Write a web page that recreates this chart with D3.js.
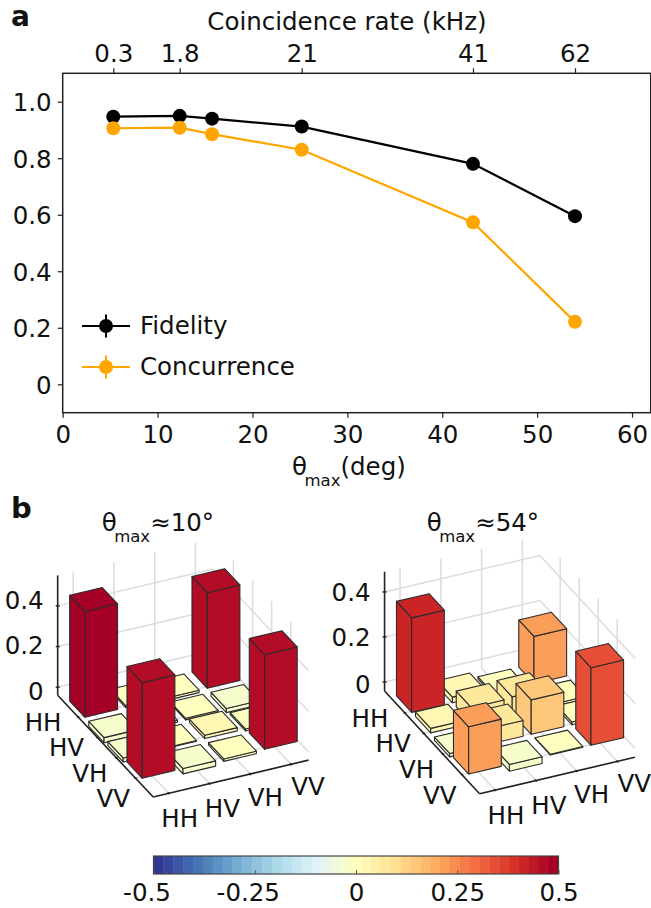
<!DOCTYPE html>
<html>
<head>
<meta charset="utf-8">
<script src="https://cdn.jsdelivr.net/npm/d3@7"></script>
<style>
body{margin:0;background:#fff;}
text{font-family:"DejaVu Sans";fill:#111;}
</style>
</head>
<body>
<script>
// panel a
var thetaMax = [5.33, 12.33, 15.74, 25.19, 43.24, 53.99];
var fidelity = [0.947, 0.950, 0.940, 0.912, 0.780, 0.595];
var concurrence = [0.906, 0.908, 0.885, 0.830, 0.573, 0.221];
var concurrenceErr = [0.022, 0.010, 0.010, 0.010, 0.008, 0.008];
var rateTicks = [5.33, 12.33, 25.19, 43.24, 53.99];
var rateLabels = ["0.3", "1.8", "21", "41", "62"];
var xTicks = [0, 10, 20, 30, 40, 50, 60];
var yTicks = [0, 0.2, 0.4, 0.6, 0.8, 1.0];

// panel b, rows then columns
var basis = ["HH", "HV", "VH", "VV"];
var rho10 = [
    [0.52, 0.010, -0.012, 0.47],
    [-0.025, -0.010, -0.008, -0.020],
    [-0.020, -0.003, 0.016, -0.010],
    [0.47, -0.026, -0.012, 0.465]
];
var rho54 = [
    [0.42, 0.025, -0.010, 0.21],
    [0.020, 0.07, 0.075, -0.012],
    [-0.015, 0.07, 0.153, 0.012],
    [0.21, -0.030, 0.003, 0.345]
];
var zTicks = [0, 0.2, 0.4];
var cbarTicks = [-0.5, -0.25, 0, 0.25, 0.5];

var width = 651, height = 908;
var labelSize = "24.5px";

var svg = d3.select("body").append("svg")
    .attr("width", width)
    .attr("height", height)
    .style("display", "block");

var fmt = function(d){ return d == 0 ? "0" : String(d); };

// 41 steps of the 11 class RdYlBu, blue at the low end
var rdylbu = d3.piecewise(d3.interpolateRgb, d3.schemeRdYlBu[11].slice().reverse());
var colors = d3.scaleQuantize().domain([-0.5, 0.5])
    .range(d3.range(41).map(function(i){ return rdylbu(i / 40); }));

// theta_max with its subscript, shared by the axis label and the titles
var thetaText = function(x, y, rest){
    var t = svg.append("text").attr("x", x).attr("y", y).style("font-size", labelSize);
    t.append("tspan").text("θ");
    t.append("tspan").attr("dx", -2.5).attr("dy", 11).style("font-size", "16.5px").text("max");
    t.append("tspan").attr("dy", -11).text(rest);
}

var drawLinePanel = function(){
    var xScale = d3.scaleLinear().domain([0, 62]).range([62.7, 651]);
    var yScale = d3.scaleLinear().domain([0, 1]).range([384.3, 101.7]);
    var top = 73.3, bottom = 412.7;

    svg.append("rect")
        .attr("x", 62.7).attr("y", top)
        .attr("width", 588).attr("height", bottom - top)
        .attr("fill", "none").attr("stroke", "#222").attr("stroke-width", 1.5);

    var xAxis = svg.append("g").attr("transform", "translate(0," + bottom + ")")
        .call(d3.axisBottom(xScale).tickValues(xTicks).tickSize(5).tickPadding(8).tickFormat(fmt));
    var topAxis = svg.append("g").attr("transform", "translate(0," + top + ")")
        .call(d3.axisTop(xScale).tickValues(rateTicks).tickSize(5).tickPadding(6)
            .tickFormat(function(d, i){ return rateLabels[i]; }));
    var yAxis = svg.append("g").attr("transform", "translate(62.7,0)")
        .call(d3.axisLeft(yScale).tickValues(yTicks).tickSize(5).tickPadding(6)
            .tickFormat(function(d){ return d == 0 ? "0" : d.toFixed(1); }));
    [xAxis, topAxis, yAxis].forEach(function(g){
        g.select(".domain").remove();
        g.selectAll("line").attr("stroke", "#222").attr("stroke-width", 1.2);
        g.selectAll("text").style("font-size", labelSize).style("font-family", "DejaVu Sans").attr("fill", "#111");
    });
    yAxis.selectAll("text").attr("y", 1);

    var series = [
        {name: "Fidelity", values: fidelity, err: null, color: "#000000"},
        {name: "Concurrence", values: concurrence, err: concurrenceErr, color: "#ffa500"}
    ];
    var line = d3.line()
        .x(function(d){ return xScale(d[0]); })
        .y(function(d){ return yScale(d[1]); });

    series.forEach(function(s, k){
        var pts = d3.zip(thetaMax, s.values);
        svg.append("path").attr("d", line(pts))
            .attr("fill", "none").attr("stroke", s.color).attr("stroke-width", 2.2);
        if (s.err){
            svg.selectAll(".err" + k).data(pts).enter().append("line")
                .attr("x1", function(d){ return xScale(d[0]); })
                .attr("x2", function(d){ return xScale(d[0]); })
                .attr("y1", function(d, i){ return yScale(d[1] - s.err[i]); })
                .attr("y2", function(d, i){ return yScale(d[1] + s.err[i]); })
                .attr("stroke", s.color).attr("stroke-width", 2);
        }
        svg.selectAll(".dot" + k).data(pts).enter().append("circle")
            .attr("cx", function(d){ return xScale(d[0]); })
            .attr("cy", function(d){ return yScale(d[1]); })
            .attr("r", 7)
            .attr("fill", s.color);

        // legend
        var ly = 326 + k * 41;
        svg.append("line").attr("x1", 82).attr("x2", 130).attr("y1", ly).attr("y2", ly)
            .attr("stroke", s.color).attr("stroke-width", 2.2);
        svg.append("line").attr("x1", 106).attr("x2", 106).attr("y1", ly - 11.5).attr("y2", ly + 11.5)
            .attr("stroke", s.color).attr("stroke-width", 2);
        svg.append("circle").attr("cx", 106).attr("cy", ly).attr("r", 7).attr("fill", s.color);
        svg.append("text").attr("x", 140).attr("y", ly + 8)
            .style("font-size", labelSize).text(s.name);
    });

    svg.append("text").attr("x", 347).attr("y", 30).attr("text-anchor", "middle")
        .style("font-size", labelSize).text("Coincidence rate (kHz)");
    thetaText(292, 475, "(deg)");
}

// 3D bars are an oblique view: row and column steps on the page, then height
var drawBars = function(rho, view, title){
    var rowX = d3.scaleLinear().domain([0, 1]).range([0, view.row[0]]);
    var rowY = d3.scaleLinear().domain([0, 1]).range([0, view.row[1]]);
    var colX = d3.scaleLinear().domain([0, 1]).range([0, view.col[0]]);
    var colY = d3.scaleLinear().domain([0, 1]).range([0, view.col[1]]);
    var zScale = d3.scaleLinear().domain([0, 1]).range([0, view.zUnit]);

    var project = function(r, c, z){
        return [view.x + rowX(r) + colX(c), view.y + rowY(r) + colY(c) - zScale(z)];
    };
    var seg = function(a, b, color, w){
        var p = project(a[0], a[1], a[2]), q = project(b[0], b[1], b[2]);
        svg.append("line")
            .attr("x1", p[0]).attr("y1", p[1]).attr("x2", q[0]).attr("y2", q[1])
            .attr("stroke", color).attr("stroke-width", w);
    };

    var rMin = -0.67, rMax = 4.33, cMin = 0.02, cMax = 3.83, zf = -0.04;
    var grid = "#dcdcdc";

    // walls and floor
    zTicks.forEach(function(z){
        seg([rMin, cMin, z], [rMin, cMax, z], grid, 1.5);
        seg([rMin, cMax, z], [rMax, cMax, z], grid, 1.5);
    });
    basis.forEach(function(b, i){
        seg([rMin, i + 0.4, zf], [rMin, i + 0.4, view.zTop], grid, 1.5);
        seg([i + 0.4, cMax, zf], [i + 0.4, cMax, view.zTop], grid, 1.5);
        seg([rMin, i + 0.4, zf], [rMax, i + 0.4, zf], grid, 1.5);
        seg([i + 0.4, cMin, zf], [i + 0.4, cMax, zf], grid, 1.5);
    });

    // axes
    seg([rMin, cMin, zf], [rMin, cMin, view.zTop], "#222", 1.6);
    seg([rMin, cMin, zf], [rMax, cMin, zf], "#222", 1.6);
    seg([rMax, cMin, zf], [rMax, cMax, zf], "#222", 1.6);
    zTicks.forEach(function(z, i){
        var p = project(rMin, cMin, z);
        svg.append("line").attr("x1", p[0] - 2).attr("x2", p[0] + 2).attr("y1", p[1]).attr("y2", p[1])
            .attr("stroke", "#222").attr("stroke-width", 1.4);
        svg.append("text").attr("x", p[0] - 14).attr("y", p[1] + view.zDy[i])
            .attr("text-anchor", "end").style("font-size", labelSize)
            .text(fmt(z));
    });
    basis.forEach(function(b, i){
        seg([i + 0.4, cMin - 0.03, zf], [i + 0.4, cMin + 0.03, zf], "#222", 1.4);
        seg([rMax - 0.05, i + 0.4, zf], [rMax + 0.05, i + 0.4, zf], "#222", 1.4);
        var p = project(i + 0.4, cMin, zf);
        svg.append("text").attr("x", p[0] - 35 + 4.3 * i).attr("y", p[1] + 14 + 5 * i)
            .attr("text-anchor", "middle").style("font-size", labelSize).text(b);
        var q = project(rMax, i + 0.4, zf);
        svg.append("text").attr("x", q[0] + 11 + 2 * i).attr("y", q[1] + 34 - i)
            .attr("text-anchor", "middle").style("font-size", labelSize).text(b);
    });

    // bars, far ones first
    var cells = [];
    rho.forEach(function(row, r){
        row.forEach(function(v, c){ cells.push({r: r, c: c, v: v}); });
    });
    cells.sort(function(a, b){ return (a.r - a.c) - (b.r - b.c); });

    var w = 0.8;
    var poly = d3.line();
    var bars = svg.append("g").selectAll("g").data(cells).enter().append("g");
    bars.each(function(d){
        var g = d3.select(this);
        var z0 = Math.min(0, d.v), z1 = Math.max(0, d.v);
        var left = [d.r, d.c], front = [d.r + w, d.c], right = [d.r + w, d.c + w], back = [d.r, d.c + w];
        var faces = [
            [left, front, front, left].map(function(p, i){ return project(p[0], p[1], i < 2 ? z1 : z0); }),
            [front, right, right, front].map(function(p, i){ return project(p[0], p[1], i < 2 ? z1 : z0); }),
            [left, front, right, back].map(function(p){ return project(p[0], p[1], z1); })
        ];
        faces.forEach(function(f){
            g.append("path").attr("d", poly(f) + "Z")
                .attr("fill", colors(d.v))
                .attr("stroke", "#2b2b2b").attr("stroke-width", 1.1)
                .attr("stroke-linejoin", "round");
        });
    });

    thetaText(view.titleX, 531, title);
}

var drawColorbar = function(){
    var xScale = d3.scaleLinear().domain([-0.5, 0.5]).range([153.5, 558.5]);
    var binW = (xScale(0.5) - xScale(-0.5)) / colors.range().length;
    svg.selectAll(".cbin").data(colors.range()).enter().append("rect")
        .attr("x", function(d, i){ return xScale(-0.5) + i * binW; })
        .attr("y", 856).attr("height", 18)
        .attr("width", binW + 0.4)
        .attr("fill", function(d){ return d; });
    svg.append("rect").attr("x", 153.5).attr("y", 856).attr("width", 405).attr("height", 18)
        .attr("fill", "none").attr("stroke", "#444").attr("stroke-width", 1.2);
    var ax = svg.append("g").attr("transform", "translate(0,874)")
        .call(d3.axisBottom(xScale).tickValues(cbarTicks).tickSize(-4).tickPadding(10).tickFormat(fmt));
    ax.select(".domain").remove();
    ax.selectAll("line").attr("stroke", "#555").attr("stroke-width", 1);
    ax.selectAll("text").style("font-size", labelSize).style("font-family", "DejaVu Sans").attr("fill", "#111")
        .attr("dx", function(d){ return d < 0 ? -7 : 0; });
}

drawLinePanel();
drawBars(rho10, {x: 69.67, y: 701, row: [19.1, 20.33], col: [40.77, -9.67], zUnit: 203.3, zTop: 0.55, zDy: [13, 7, 3], titleX: 101.7}, "≈10°");
drawBars(rho54, {x: 396.47, y: 695.9, row: [19, 20.56], col: [40.77, -9.57], zUnit: 225, zTop: 0.49, zDy: [11, 9, 9], titleX: 426.7}, "≈54°");
drawColorbar();

svg.append("text").attr("x", 11).attr("y", 26).style("font-size", "28px").style("font-weight", "bold").text("a");
svg.append("text").attr("x", 11).attr("y", 518).style("font-size", "29px").style("font-weight", "bold").text("b");
</script>
</body>
</html>
